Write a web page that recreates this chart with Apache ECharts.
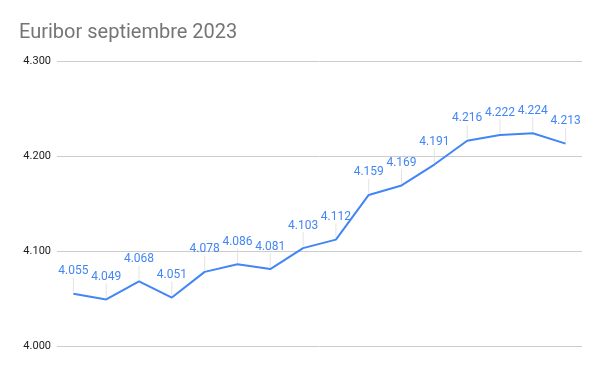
<!DOCTYPE html>
<html><head><meta charset="utf-8">
<script src="https://cdn.jsdelivr.net/npm/echarts@6/dist/echarts.min.js"></script>
<style>html,body{margin:0;padding:0;background:#fff}#c{width:600px;height:371px}</style>
</head><body><div id="c"></div>
<script>
const days = ['1','4','5','6','7','8','11','12','13','14','15','18','19','20','21','22'];
const values = [4.055,4.049,4.068,4.051,4.078,4.086,4.081,4.103,4.112,4.159,4.169,4.191,4.216,4.222,4.224,4.213];
const yTicks = [4.0,4.1,4.2,4.3];
const chart = echarts.init(document.getElementById('c'));
chart.setOption({
  animation:false,
  title:{text:'Euribor septiembre 2023',left:14,top:18,textStyle:{fontFamily:'Roboto',fontSize:20,fontWeight:'normal',color:'#757575'}},
  grid:{left:57,right:18,top:61,bottom:25},
  xAxis:{type:'category',data:days,boundaryGap:true,axisLine:{show:false},axisTick:{show:false},axisLabel:{show:false}},
  yAxis:{type:'value',min:yTicks[0],max:yTicks[yTicks.length-1],interval:0.1,
    axisLabel:{formatter:v=>v.toFixed(3),fontFamily:'Roboto',fontSize:11,color:'#222',margin:6},
    splitLine:{lineStyle:{color:'#cccccc'}},axisLine:{show:false},axisTick:{show:false}},
  series:[
    {type:'custom',data:values.map((v,i)=>[i,v]),silent:true,z:1,
     renderItem:(params,api)=>{
       const p=api.coord([api.value(0),api.value(1)]);
       return {type:'line',shape:{x1:p[0],y1:p[1]-2,x2:p[0],y2:p[1]-16},style:{stroke:'#e3e3e3',lineWidth:1}};
     }},
    {type:'line',data:values,symbol:'circle',symbolSize:1,showAllSymbol:true,itemStyle:{color:'rgba(0,0,0,0)'},z:3,
    lineStyle:{color:'#4285F4',width:2},
    label:{show:true,position:'top',distance:16,formatter:p=>p.value.toFixed(3),fontFamily:'Roboto',fontSize:12,color:'#4285F4'},
    labelLayout:{hideOverlap:false}
  }]
});
</script></body></html>
